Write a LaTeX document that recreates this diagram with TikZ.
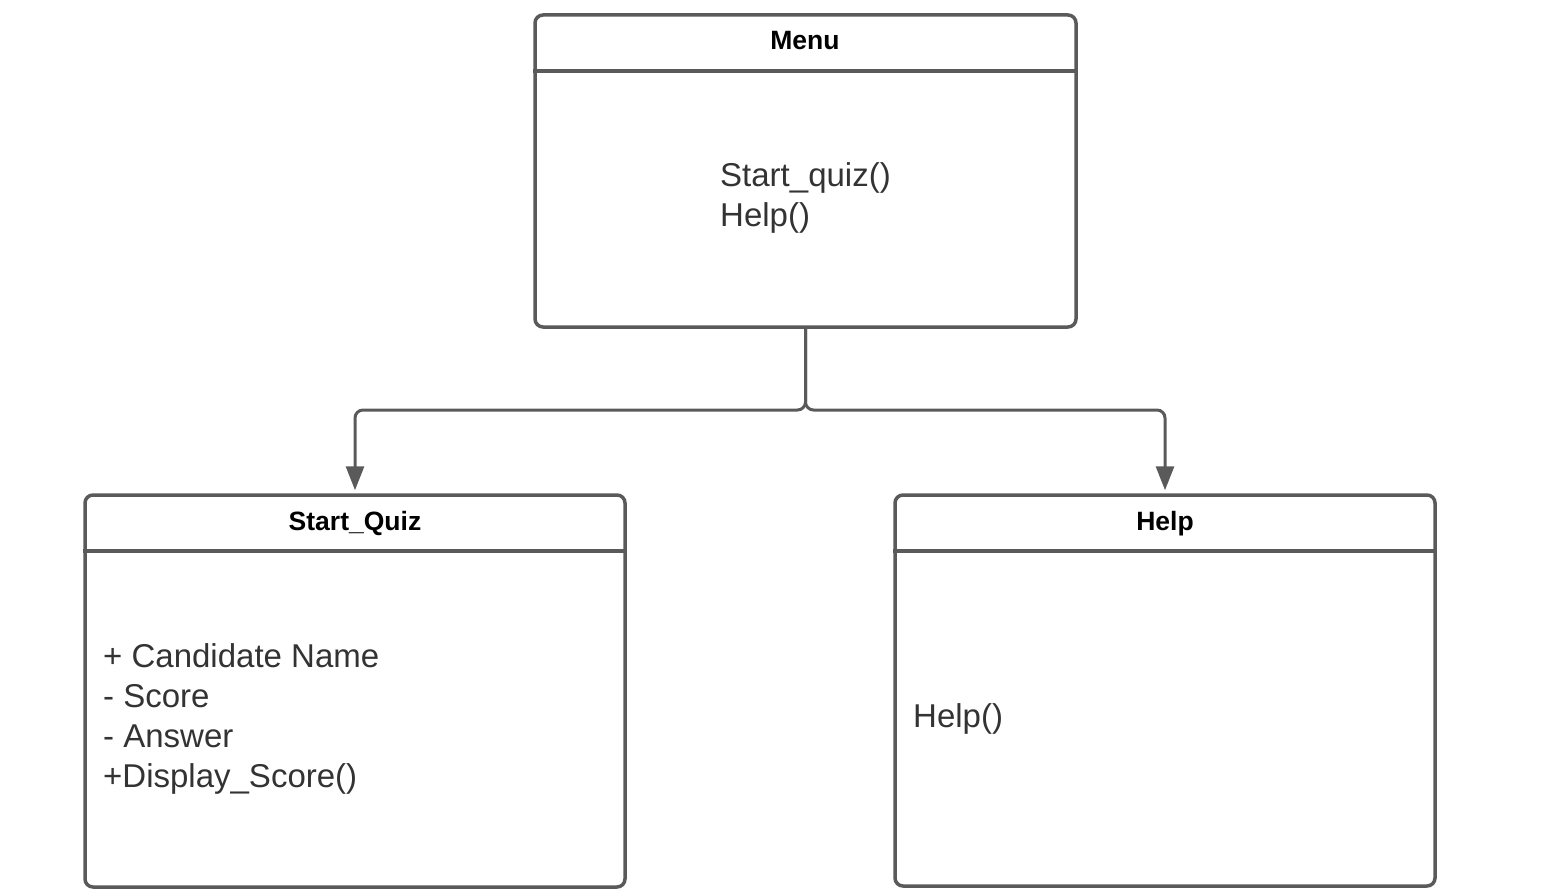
\documentclass[tikz,border=0pt]{standalone}
\usepackage{fontspec}
\setmainfont{Liberation Sans}
\usetikzlibrary{arrows.meta}

\definecolor{linegray}{RGB}{90,90,90}
\definecolor{textgray}{RGB}{51,51,51}

\tikzset{
  classbox/.style={draw=linegray, line width=3.5pt, rounded corners=8pt, inner sep=0pt},
  headline/.style={draw=linegray, line width=3.5pt},
  conn/.style={draw=linegray, line width=3pt, rounded corners=8pt,
               -{Triangle[width=18pt, length=24pt]}, shorten >=3pt},
  titletext/.style={font=\fontsize{26.5}{32}\selectfont\bfseries, text=black, inner sep=0pt},
  bodytext/.style={font=\fontsize{33}{40}\selectfont, text=textgray, align=left, inner sep=0pt}
}

\begin{document}
\begin{tikzpicture}[x=1pt, y=-1pt]
  \useasboundingbox (0,0) rectangle (1566,893);

  % Class boxes
  \node[classbox, minimum width=541pt, minimum height=312pt] (menu) at (805.5,171) {};
  \node[classbox, minimum width=540pt, minimum height=392pt] (quiz) at (355,691) {};
  \node[classbox, minimum width=540pt, minimum height=391pt] (help) at (1165,690.5) {};

  % Header separators
  \draw[headline] (menu.west |- 0,71) -- (menu.east |- 0,71);
  \draw[headline] (quiz.west |- 0,551) -- (quiz.east |- 0,551);
  \draw[headline] (help.west |- 0,551) -- (help.east |- 0,551);

  % Class names
  \node[titletext, anchor=base] (menutitle) at (805,50) {Menu};
  \node[titletext, anchor=base] (quiztitle) at (355,530) {Start\_Quiz};
  \node[titletext, anchor=base] (helptitle) at (1165,530) {Help};

  % Members (anchored at the baseline of the last line)
  \node[bodytext, anchor=base west] (menubody) at (720,227) {Start\_quiz()\\Help()};
  \node[bodytext, anchor=base west] (quizbody) at (103,787)
        {+ Candidate Name\\- Score\\- Answer\\+Display\_Score()};
  \node[bodytext, anchor=base west] (helpbody) at (913,727) {Help()};

  % Connectors
  \coordinate (split) at (menu.south |- 0,410);
  \draw[conn] (menu.south) -- (split) -| (quiz.north);
  \draw[conn] (menu.south) -- (split) -| (help.north);

\end{tikzpicture}
\end{document}
